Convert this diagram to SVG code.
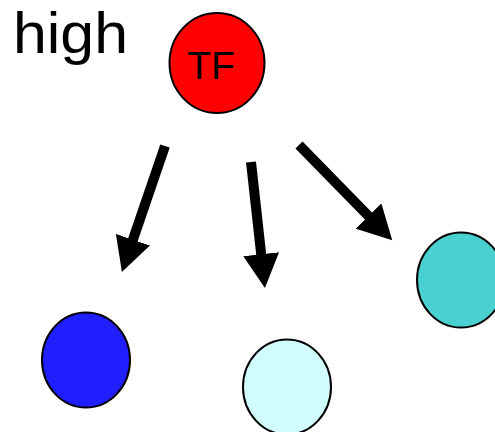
<svg xmlns="http://www.w3.org/2000/svg" width="495" height="432" viewBox="0 0 495 432">
<style>
.node{stroke:#000;stroke-width:2}
.lbl{font-family:"Liberation Sans",Arial,sans-serif;fill:#000}
.arr{stroke:#000;stroke-width:10;fill:none;marker-end:url(#ah)}
</style>
<defs>
<marker id="ah" markerUnits="strokeWidth" markerWidth="3.5" markerHeight="3.6" refX="0.1" refY="1.8" orient="auto">
<path d="M0,0 L3.4,1.8 L0,3.6 z" fill="#000"/>
</marker>
</defs>
<rect width="495" height="432" fill="#fff"/>
<text class="lbl" x="13" y="53" font-size="58" textLength="115" lengthAdjust="spacingAndGlyphs">high</text>
<g id="tf">
<ellipse class="node" cx="217" cy="63" rx="47.5" ry="50" fill="#ff0000"/>
<text class="lbl" x="211" y="79" font-size="39" text-anchor="middle">TF</text>
</g>
<g id="blue"><ellipse class="node" cx="86" cy="360" rx="44" ry="47.5" fill="#1f1fff"/></g>
<g id="lightcyan"><ellipse class="node" cx="287" cy="387" rx="44" ry="47.5" fill="#d0fcfc"/></g>
<g id="turquoise"><ellipse class="node" cx="461" cy="280" rx="44" ry="47.5" fill="#48d1d0"/></g>
<g id="connectors">
<line class="arr" x1="165" y1="146" x2="132.6" y2="240.7"/>
<line class="arr" x1="251" y1="162" x2="261.3" y2="255.2"/>
<line class="arr" x1="299" y1="145" x2="369.2" y2="216.7"/>
</g>
</svg>
